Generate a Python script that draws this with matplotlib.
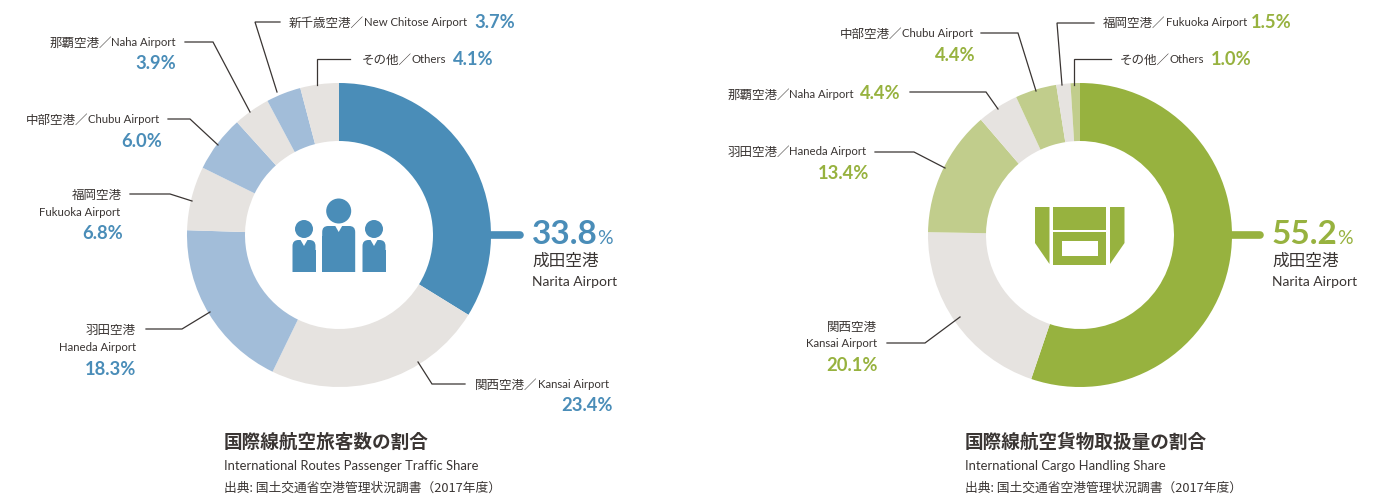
import matplotlib
matplotlib.use('Agg')
from matplotlib import pyplot as plt
from matplotlib.patches import Circle, FancyBboxPatch, Polygon, Rectangle

# 数据
passenger_airports = ['成田', '関西', '羽田', '福岡', '中部', '那覇', '新千歳', 'その他']
passenger_share = [33.8, 23.4, 18.3, 6.8, 6.0, 3.9, 3.7, 4.1]
cargo_airports = ['成田', '関西', '羽田', '那覇', '中部', '福岡', 'その他']
cargo_share = [55.2, 20.1, 13.4, 4.4, 4.4, 1.5, 1.0]

passenger_title = '国際線航空旅客数の割合'
passenger_subtitle = 'International Routes Passenger Traffic Share'
cargo_title = '国際線航空貨物取扱量の割合'
cargo_subtitle = 'International Cargo Handling Share'
source_text = '出典: 国土交通省空港管理状況調書（2017年度）'

# 颜色
BLUE = '#4a8db8'
LIGHT_BLUE = '#a2bdd9'
GREY = '#e6e3e0'
GREEN = '#97b23f'
LIGHT_GREEN = '#c1cd8c'
TEXT = '#3a3533'
LINE = '#3a3533'

LATIN_FONT = ['Lato', 'DejaVu Sans']
CJK_FONT = ['Noto Sans CJK JP', 'DejaVu Sans']
NUM_FONT = ['Lato', 'DejaVu Sans']

fig = plt.figure(figsize=(13.74, 4.95), dpi=100)
ax = fig.add_axes([0, 0, 1, 1])
ax.set_aspect('equal')
ax.set_xlim(0, 1374)
ax.set_ylim(495, 0)
renderer = fig.canvas.get_renderer()


def donut(values, colors, center):
    ax.pie(values, colors=colors, center=center, radius=152, startangle=-90, counterclock=True,
           wedgeprops={'width': 58, 'linewidth': 0})
    ax.set_xlim(0, 1374)
    ax.set_ylim(495, 0)


def cjk(x, y, s, ha='left', size=9):
    return ax.text(x, y + 1, s, ha=ha, va='center', fontsize=size, color=TEXT, family=CJK_FONT)


def latin(x, y, s, ha='left', size=8.2):
    return ax.text(x, y + 0.5, s, ha=ha, va='center', fontsize=size, color=TEXT, family=LATIN_FONT)


def label(x, y, jp, en, ha='left'):
    # 日文和英文字号不同，分两段画，按第一段的实际宽度接上第二段
    if ha == 'left':
        t = cjk(x, y, jp + '／')
        latin(t.get_window_extent(renderer).x1, y, en)
    else:
        t = latin(x, y, en, ha='right')
        cjk(t.get_window_extent(renderer).x0 + 1, y, jp + '／', ha='right')


def pct(x, y, value, color, ha='left', size=13.2):
    ax.text(x, y + 1.5, f'{value}%', ha=ha, va='center', fontsize=size, color=color, family=NUM_FONT,
            fontweight='bold')


def leader(xs, ys):
    ax.plot(xs, ys, color=LINE, lw=0.9, solid_joinstyle='miter')


def main_label(x, value, color):
    # 成田 的大号标注
    ax.plot([x - 41, x - 12], [235, 235], color=color, lw=5.5, solid_capstyle='round')
    ax.text(x, 234, f'{value}', ha='left', va='center', fontsize=24, color=color,
            family=NUM_FONT, fontweight='bold')
    ax.text(x + 65, 238, '%', ha='left', va='center', fontsize=14, color=color, family=NUM_FONT)
    cjk(x, 260, '成田空港', size=12)
    latin(x, 282, 'Narita Airport', size=10)


def titles(x, title, subtitle):
    ax.text(x, 442, title, ha='left', va='center', fontsize=13.4, color=TEXT,
            family=CJK_FONT, fontweight='bold')
    latin(x, 465, subtitle, size=9.4)
    cjk(x, 487, source_text, size=9.2)


def person(cx, head_y, head_r, body_w, body_top, color):
    ax.add_patch(Circle((cx, head_y), head_r, fc=color, ec='none'))
    ax.add_patch(FancyBboxPatch((cx - body_w / 2 + 6, body_top + 6), body_w - 12, 272 - body_top - 6,
                                boxstyle='round,pad=6', fc=color, ec='none'))
    ax.add_patch(Rectangle((cx - body_w / 2, body_top + 10), body_w, 272 - body_top - 10, fc=color, ec='none'))
    ax.add_patch(Rectangle((cx - body_w / 2 - 1, 272), body_w + 2, 8, fc='white', ec='none'))
    ax.add_patch(Polygon([(cx - 4, body_top - 1), (cx + 4, body_top - 1), (cx, body_top + 6)], fc='white', ec='none'))


def cargo_icon(color):
    ax.add_patch(Polygon([(1035, 207), (1049.5, 207), (1049.5, 264), (1035, 243)], fc=color, ec='none'))
    ax.add_patch(Polygon([(1110, 207), (1124.5, 207), (1124.5, 243), (1110, 264)], fc=color, ec='none'))
    ax.add_patch(Rectangle((1053, 207), 53, 23, fc=color, ec='none'))
    ax.add_patch(Rectangle((1053, 232), 53, 33, fc=color, ec='none'))
    ax.add_patch(Rectangle((1062, 241), 36, 15, fc='white', ec='none'))


# 左图：旅客
donut(passenger_share, [BLUE, GREY, LIGHT_BLUE, GREY, LIGHT_BLUE, GREY, LIGHT_BLUE, GREY], (339, 235))
person(304, 229, 9, 23, 240, BLUE)
person(374, 229, 9, 23, 240, BLUE)
person(338.7, 211, 12.5, 33, 226, BLUE)
main_label(532, passenger_share[0], BLUE)

label(289, 22, '新千歳空港', 'New Chitose Airport')
pct(474, 21, passenger_share[6], BLUE)
leader([280, 255, 277], [22, 22, 92])
label(362, 59, 'その他', 'Others')
pct(453, 58, passenger_share[7], BLUE)
leader([350, 317, 317], [59, 59, 85])
label(176, 42, '那覇空港', 'Naha Airport', ha='right')
pct(176, 62, passenger_share[5], BLUE, ha='right')
leader([185, 213, 250], [42, 42, 112])
label(159, 119, '中部空港', 'Chubu Airport', ha='right')
pct(162, 140, passenger_share[4], BLUE, ha='right')
leader([168, 190, 218], [119, 119, 145])
cjk(122, 194, '福岡空港', ha='right')
latin(120, 212, 'Fukuoka Airport', ha='right')
pct(123, 232, passenger_share[3], BLUE, ha='right')
leader([130, 170, 192], [194, 194, 201])
cjk(136, 329, '羽田空港', ha='right')
latin(136, 347, 'Haneda Airport', ha='right')
pct(136, 368, passenger_share[2], BLUE, ha='right')
leader([146, 182, 210], [329, 329, 312])
label(475, 384, '関西空港', 'Kansai Airport')
pct(613, 404, passenger_share[1], BLUE, ha='right')
leader([465, 432, 418], [384, 384, 362])
titles(224, passenger_title, passenger_subtitle)

# 右图：货物
donut(cargo_share, [GREEN, GREY, LIGHT_GREEN, GREY, LIGHT_GREEN, GREY, LIGHT_GREEN], (1080, 235))
cargo_icon(GREEN)
main_label(1272, cargo_share[0], GREEN)

label(973, 33, '中部空港', 'Chubu Airport', ha='right')
pct(976, 54, cargo_share[4], GREEN, ha='right')
leader([981, 1018, 1036], [33, 33, 91])
label(1103, 22, '福岡空港', 'Fukuoka Airport')
pct(1251, 21, cargo_share[5], GREEN)
leader([1094, 1057, 1062], [23, 23, 85])
label(1120, 59, 'その他', 'Others')
pct(1211, 58, cargo_share[6], GREEN)
leader([1111, 1074, 1074], [59, 59, 85])
label(854, 94, '那覇空港', 'Naha Airport', ha='right')
pct(860, 92, cargo_share[3], GREEN)
leader([910, 986, 998], [92, 92, 109])
label(866, 151, '羽田空港', 'Haneda Airport', ha='right')
pct(869, 172, cargo_share[2], GREEN, ha='right')
leader([875, 914, 945], [152, 152, 168])
cjk(877, 326, '関西空港', ha='right')
latin(877, 343, 'Kansai Airport', ha='right')
pct(878, 364, cargo_share[1], GREEN, ha='right')
leader([887, 925, 960], [343, 343, 317])
titles(965, cargo_title, cargo_subtitle)

ax.axis('off')

plt.savefig('out.png', dpi=100)
